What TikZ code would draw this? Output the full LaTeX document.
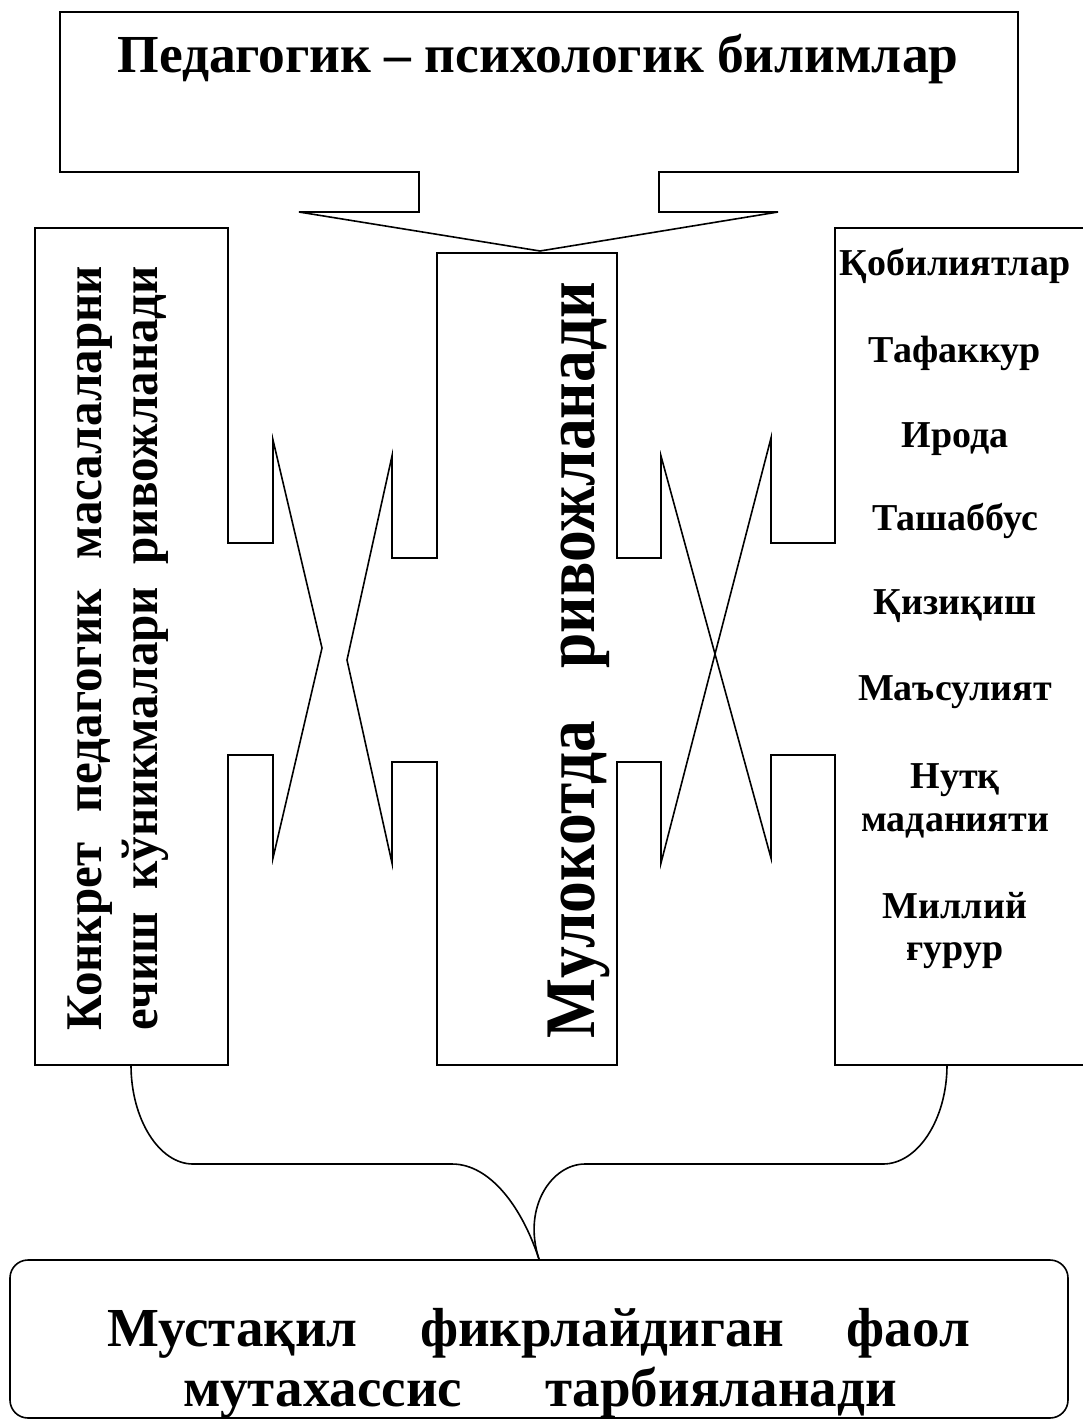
\documentclass[tikz,border=0pt]{standalone}
\usepackage{fontspec}
\setmainfont{Liberation Serif}
\begin{document}
\begin{tikzpicture}[x=1pt,y=-1pt,line width=1.6pt,line join=miter,
  txt/.style={inner sep=0pt,anchor=base},
  fTitle/.style={font=\fontsize{53.5}{62}\selectfont\bfseries},
  fLeft/.style={font=\fontsize{49}{55}\selectfont\bfseries},
  fMid/.style={font=\fontsize{63.5}{72}\selectfont\bfseries},
  fList/.style={font=\fontsize{38}{42}\selectfont\bfseries},
  fGoal/.style={font=\fontsize{55}{60}\selectfont\bfseries}]
\useasboundingbox (0,0) rectangle (1082,1422);

% top callout box
\draw (60,12) -- (1018,12) -- (1018,172) -- (659,172) -- (659,212) -- (778,212)
  -- (540,251) -- (299,212) -- (419,212) -- (419,172) -- (60,172) -- cycle;
\node[txt,fTitle] (title) at (538,72) {Педагогик – психологик билимлар};

% left box with right arrow
\draw (228,543) -- (273,543) -- (273,440) -- (322,648) -- (273,858) -- (273,755)
  -- (228,755) -- (228,1065) -- (35,1065) -- (35,228) -- (228,228) -- cycle;
\coordinate (leftbot) at (131,1065);
\node[txt,fLeft,rotate=90] (left1) at (101,648) {\scalebox{1}[1.05]{\makebox[764pt][s]{Конкрет педагогик масалаларни}}};
\node[txt,fLeft,rotate=90] (left2) at (157,648) {\scalebox{1}[1.05]{\makebox[764pt][s]{ечиш кўникмалари ривожланади}}};

% middle box with two arrows
\draw (437,253) -- (617,253) -- (617,558) -- (661,558) -- (661,456) -- (715,654)
  -- (661,863) -- (661,762) -- (617,762) -- (617,1065) -- (437,1065) -- (437,762)
  -- (392,762) -- (392,863) -- (347,660) -- (392,456) -- (392,558) -- (437,558) -- cycle;
\node[txt,fMid,rotate=90] (mid) at (594,660) {\scalebox{1}[1.12]{\makebox[756pt][s]{Мулокотда ривожланади}}};

% right box with left arrow
\draw (1095,228) -- (835,228) -- (835,543) -- (771,543) -- (771,438) -- (715,654)
  -- (771,858) -- (771,755) -- (835,755) -- (835,1065) -- (1095,1065);
\coordinate (rightbot) at (947,1065);
\node[txt,fList] (r1) at (955,275) {Қобилиятлар};
\node[txt,fList] (r2) at (955,362) {Тафаккур};
\node[txt,fList] (r3) at (955,447) {Ирода};
\node[txt,fList] (r4) at (955,530) {Ташаббус};
\node[txt,fList] (r5) at (955,614) {Қизиқиш};
\node[txt,fList] (r6) at (955,700) {Маъсулият};
\node[txt,fList] (r7a) at (955,788) {Нутқ};
\node[txt,fList] (r7b) at (955,831) {маданияти};
\node[txt,fList] (r8a) at (955,918) {Миллий};
\node[txt,fList] (r8b) at (955,960) {ғурур};

% bottom goal box
\node[draw,rounded corners=18pt,minimum width=1058pt,minimum height=158pt,inner sep=0pt] (goal) at (539,1339) {};
\node[txt,fGoal] (goal1) at (538.5,1346) {\makebox[863pt][s]{Мустақил фикрлайдиган фаол}};
\node[txt,fGoal] (goal2) at (540,1406) {\makebox[714pt][s]{мутахассис тарбияланади}};

% brace joining left and right boxes into the goal
\draw (leftbot) .. controls (131,1119) and (159,1164) .. (193,1164) -- (452,1164)
  .. controls (490,1164) and (522,1207) .. (goal.north);
\draw (rightbot) .. controls (947,1119) and (918,1164) .. (883,1164) -- (585,1164)
  .. controls (552,1164) and (522,1207) .. (goal.north);
\end{tikzpicture}
\end{document}
